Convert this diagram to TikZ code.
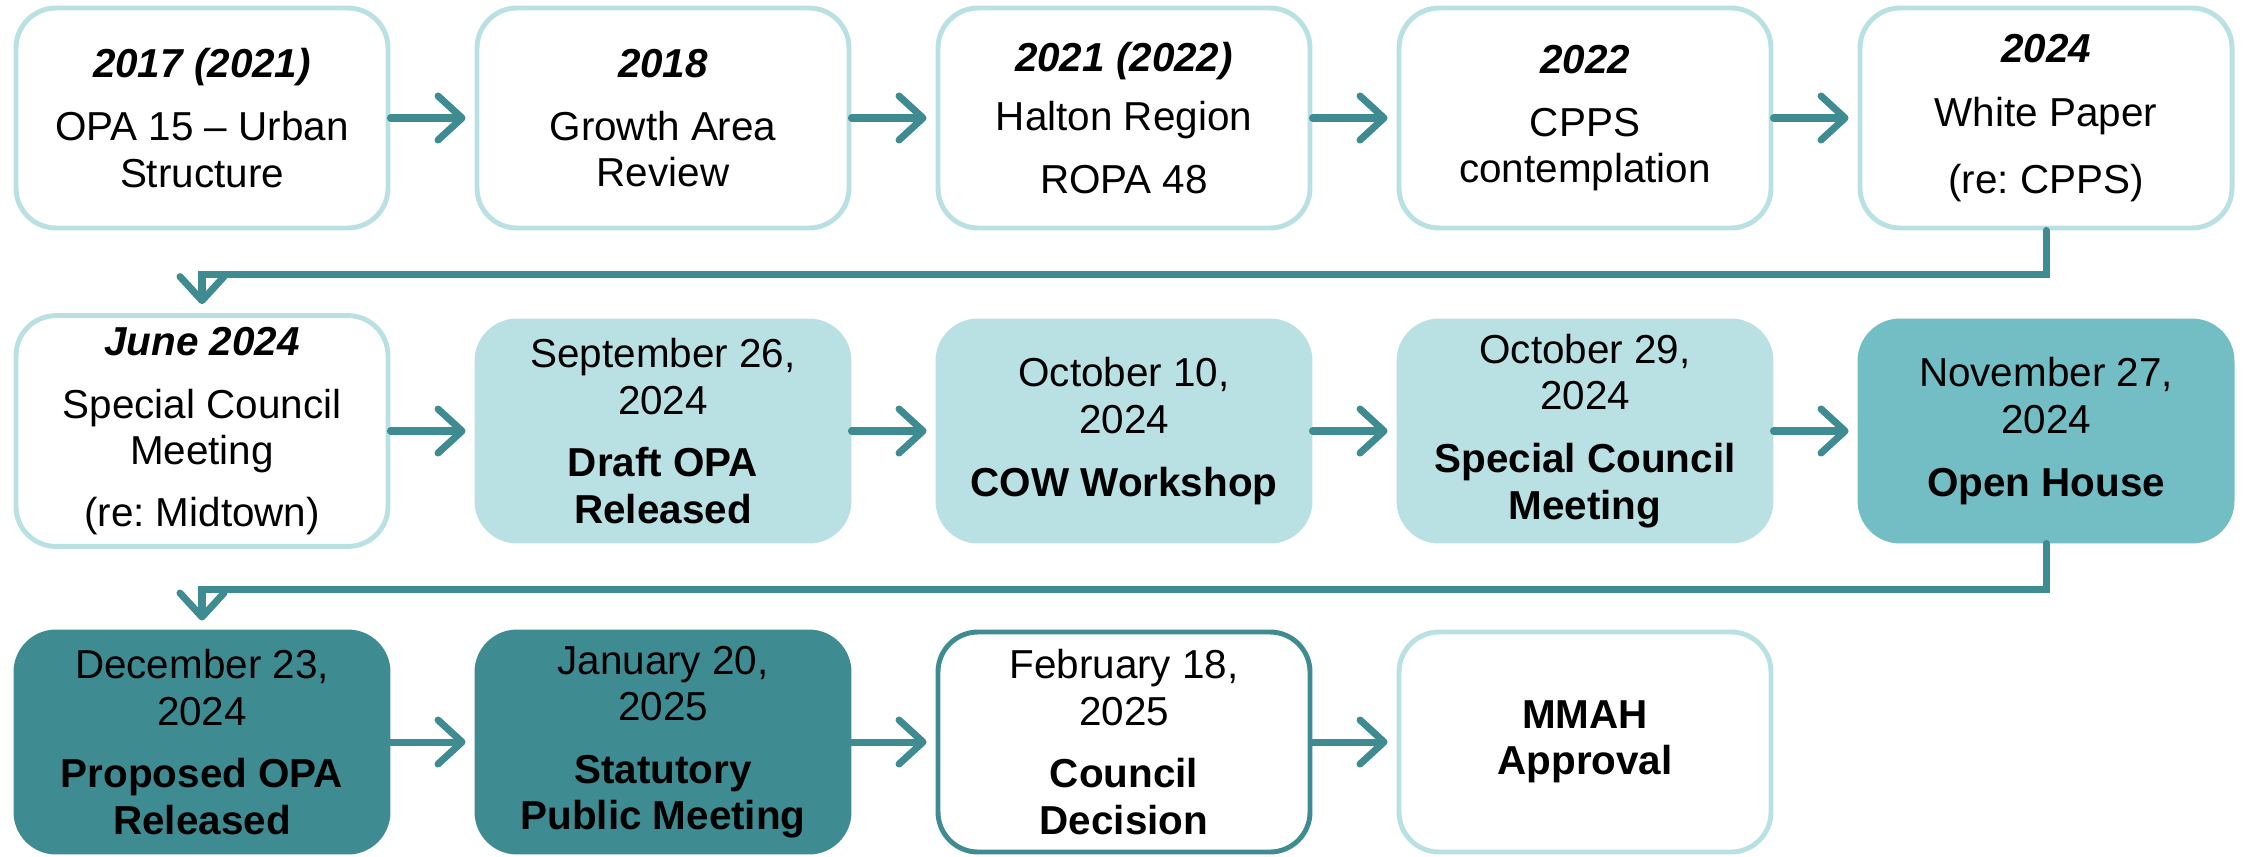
\documentclass[tikz,border=0pt]{standalone}
\usepackage{fontspec}
\setmainfont{Liberation Sans}
\usetikzlibrary{arrows.meta}
\definecolor{tealpale}{HTML}{B9E0E3}
\definecolor{tealmid}{HTML}{72BEC4}
\definecolor{tealdark}{HTML}{3E8B92}
\tikzset{stage/.style={rectangle, rounded corners=4mm, minimum width=3.72cm, minimum height=2.2cm, align=center, line width=1.4pt, font=\fontsize{11.5}{13.2}\selectfont},outline/.style={stage,draw=tealpale,fill=white},pale/.style={stage,draw=tealpale,fill=tealpale},mid/.style={stage,draw=tealmid,fill=tealmid},deep/.style={stage,draw=tealdark,fill=tealdark},decide/.style={stage,draw=tealdark,fill=white},flow/.style={-{Straight Barb[length=2.4mm,width=4.4mm,round]},line width=2pt,draw=tealdark,line cap=round,shorten >=0.9mm}}
\frenchspacing

\begin{document}
\begin{tikzpicture}
\useasboundingbox (0,0) rectangle (22.44,8.56);

%row 1
\node (r1a) at (2.02,7.38)[outline]{\textbf{\textit{2017 (2021)}}\\[4.7pt] OPA 15 – Urban\\ Structure};
\node (r1b) at (6.63,7.38)[outline]{\textbf{\textit{2018}}\\[4.7pt] Growth Area\\ Review};
\node (r1c) at (11.24,7.38)[outline]{\textbf{\textit{2021 (2022)}}\\[3.7pt] Halton Region\\[4.7pt] ROPA 48};
\node (r1d) at (15.85,7.38)[outline]{\textbf{\textit{2022}}\\[4.7pt] CPPS\\ contemplation};
\node (r1e) at (20.46,7.38)[outline]{\textbf{\textit{2024}}\\[5.1pt] White Paper\\[6pt] (re: CPPS)};

%row 2
\node (r2a) at (2.02,4.25)[outline]{\textbf{\textit{June 2024}}\\[4.7pt] Special Council\\ Meeting\\[4.3pt] (re: Midtown)};
\node (r2b) at (6.63,4.25)[pale]{September 26,\\ 2024\\[4.7pt] \textbf{Draft OPA}\\ \textbf{Released}};
\node (r2c) at (11.24,4.25)[pale]{October 10,\\ 2024\\[4.7pt] \textbf{COW Workshop}};
\node (r2d) at (15.85,4.25)[pale]{October 29,\\ 2024\\[4.7pt] \textbf{Special Council}\\ \textbf{Meeting}};
\node (r2e) at (20.46,4.25)[mid]{November 27,\\ 2024\\[4.7pt] \textbf{Open House}};

%row 3
\node (r3a) at (2.02,1.14)[deep]{December 23,\\ 2024\\[4.7pt] \textbf{Proposed OPA}\\ \textbf{Released}};
\node (r3b) at (6.63,1.14)[deep]{January 20,\\ 2025\\[4.7pt] \textbf{Statutory}\\ \textbf{Public Meeting}};
\node (r3c) at (11.24,1.14)[decide]{February 18,\\ 2025\\[4.7pt] \textbf{Council}\\ \textbf{Decision}};
\node (r3d) at (15.85,1.14)[outline]{\textbf{MMAH}\\ \textbf{Approval}};

%arrows
\draw[flow] (r1a) -- (r1b);
\draw[flow] (r1b) -- (r1c);
\draw[flow] (r1c) -- (r1d);
\draw[flow] (r1d) -- (r1e);
\draw[flow] (r1e.south) -- ++(0,-0.44) -| (r2a.north);
\draw[flow] (r2a) -- (r2b);
\draw[flow] (r2b) -- (r2c);
\draw[flow] (r2c) -- (r2d);
\draw[flow] (r2d) -- (r2e);
\draw[flow] (r2e.south) -- ++(0,-0.46) -| (r3a.north);
\draw[flow] (r3a) -- (r3b);
\draw[flow] (r3b) -- (r3c);
\draw[flow] (r3c) -- (r3d);

\end{tikzpicture}
\end{document}
